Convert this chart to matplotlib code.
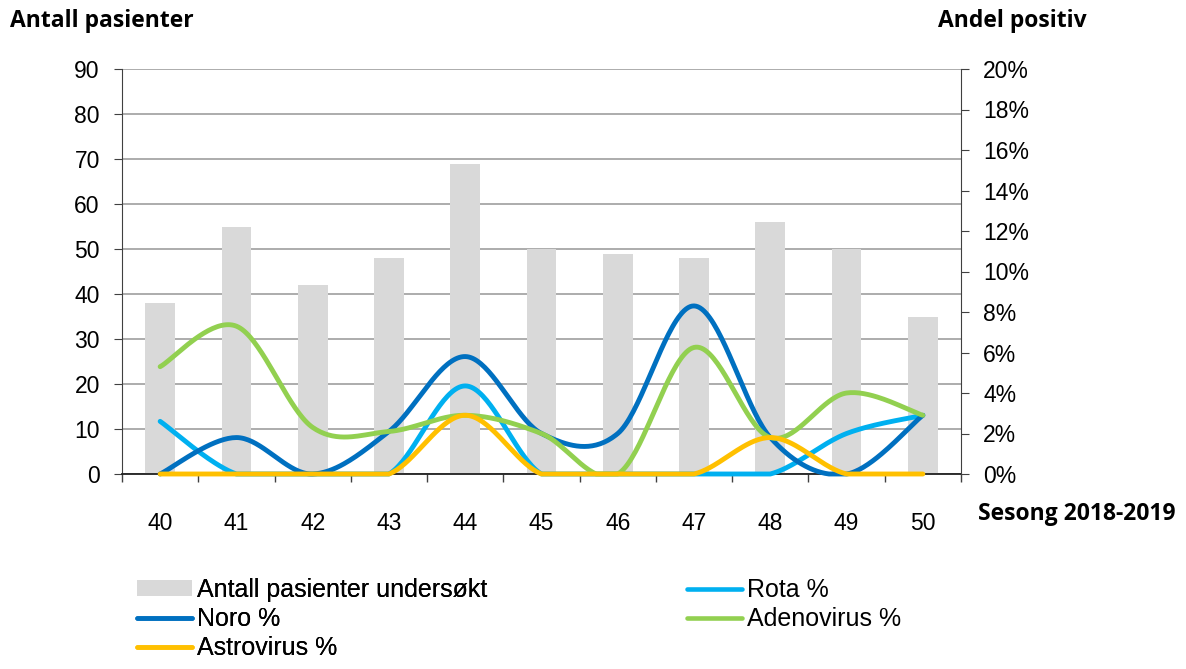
import numpy as np
import matplotlib.pyplot as plt
from matplotlib.ticker import FuncFormatter, FixedLocator
from matplotlib.patches import Patch
from matplotlib.lines import Line2D

plt.rcParams['font.family'] = ['Liberation Sans', 'DejaVu Sans']

weeks = ['40', '41', '42', '43', '44', '45', '46', '47', '48', '49', '50']
patients = [38, 55, 42, 48, 69, 50, 49, 48, 56, 50, 35]

# percent positive per week
noro = [0, 1.8, 0, 2.1, 5.8, 2.0, 2.0, 8.3, 1.8, 0, 2.9]
rota = [2.6, 0, 0, 0, 4.35, 0, 0, 0, 0, 2.0, 2.9]
adeno = [5.3, 7.3, 2.3, 2.1, 2.9, 2.0, 0, 6.25, 1.8, 4.0, 2.9]
astro = [0, 0, 0, 0, 2.9, 0, 0, 0, 1.8, 0, 0]

c_bar = '#D9D9D9'
c_noro = '#0070C0'
c_rota = '#00B0F0'
c_adeno = '#92D050'
c_astro = '#FFC000'


def smooth(y, n=40):
    # excel-like smoothed line (cubic bezier, catmull-rom control points)
    y = np.asarray(y, dtype=float)
    x = np.arange(len(y), dtype=float)
    pts = np.column_stack([x, y])
    ext = np.vstack([pts[0], pts, pts[-1]])
    out = []
    t = np.linspace(0, 1, n)[:, None]
    for i in range(len(pts) - 1):
        p0 = ext[i + 1]
        p3 = ext[i + 2]
        p1 = p0 + (ext[i + 2] - ext[i]) / 6
        p2 = p3 - (ext[i + 3] - ext[i + 1]) / 6
        seg = ((1 - t) ** 3) * p0 + 3 * ((1 - t) ** 2) * t * p1 + 3 * (1 - t) * t ** 2 * p2 + t ** 3 * p3
        out.append(seg if i == 0 else seg[1:])
    out = np.vstack(out)
    # the chart never goes under the axis
    return out[:, 0], np.maximum(out[:, 1], 0)


W, H = 1186, 669
fig = plt.figure(figsize=(W / 100, H / 100), dpi=100)
ax = fig.add_axes([122 / W, 1 - 474 / H, 839 / W, 405 / H])
ax2 = ax.twinx()

xs = np.arange(len(weeks))
ax.bar(xs, patients, width=0.39, color=c_bar, zorder=2)
ax.set_ylim(0, 90)
ax.set_yticks(range(0, 91, 10))
ax.set_xlim(-0.5, len(weeks) - 0.5)
ax.grid(axis='y', color='#A6A6A6', linewidth=1.3, zorder=0)
ax.set_axisbelow(True)

ax.set_xticks(xs)
ax.set_xticklabels(weeks)
ax.xaxis.set_minor_locator(FixedLocator(np.arange(-0.5, len(weeks), 1)))
ax.tick_params(axis='x', which='major', length=0, pad=27, labelsize=16.5)
ax.tick_params(axis='x', which='minor', length=6, direction='out', width=1, color='#404040')
ax.tick_params(axis='y', length=6, direction='out', labelsize=16.5, pad=10, color='#404040')

for name, s in ax.spines.items():
    s.set_visible(False)
ax.spines['left'].set_visible(True)
ax.spines['left'].set_color('#404040')
ax.spines['bottom'].set_visible(True)
ax.spines['bottom'].set_color('#202020')
ax.spines['bottom'].set_linewidth(1.3)

for name, s in ax2.spines.items():
    s.set_visible(False)
ax2.spines['right'].set_visible(True)
ax2.spines['right'].set_color('#404040')
ax2.set_ylim(0, 20)
ax2.set_yticks(range(0, 21, 2))
ax2.yaxis.set_major_formatter(FuncFormatter(lambda v, p: f'{v:.0f}%'))
ax2.tick_params(axis='y', length=6, direction='out', labelsize=16.5, pad=10, color='#404040')

lw = 3.5
for vals, col in [(rota, c_rota), (noro, c_noro), (adeno, c_adeno), (astro, c_astro)]:
    sx, sy = smooth(vals)
    ax2.plot(sx, sy, color=col, linewidth=lw, solid_capstyle='round', clip_on=False)

bold = dict(fontsize=16.5, fontweight='bold', family=['Open Sans', 'DejaVu Sans'], va='center')
fig.text(10 / W, 1 - 21 / H, 'Antall pasienter', ha='left', **bold)
fig.text(1087 / W, 1 - 21 / H, 'Andel positiv', ha='right', **bold)
fig.text(1176 / W, 1 - 514 / H, 'Sesong 2018-2019', ha='right', **bold)

leg_kw = dict(loc='upper left', frameon=False, fontsize=18, handlelength=2.2, handletextpad=0.2,
              labelspacing=0.2, borderaxespad=0, borderpad=0, handleheight=0.6)
col1 = [Patch(facecolor=c_bar, edgecolor='none'),
        Line2D([], [], color=c_noro, linewidth=3.3, solid_capstyle='round'),
        Line2D([], [], color=c_astro, linewidth=3.3, solid_capstyle='round')]
col2 = [Line2D([], [], color=c_rota, linewidth=3.3, solid_capstyle='round'),
        Line2D([], [], color=c_adeno, linewidth=3.3, solid_capstyle='round')]
leg1 = fig.legend(col1, ['Antall pasienter undersøkt', 'Noro %', 'Astrovirus %'],
                  bbox_to_anchor=(137 / W, 1 - 578 / H), **leg_kw)
fig.add_artist(leg1)
fig.legend(col2, ['Rota %', 'Adenovirus %'], bbox_to_anchor=(687 / W, 1 - 578 / H), **leg_kw)

fig.savefig('out.png', dpi=100)
